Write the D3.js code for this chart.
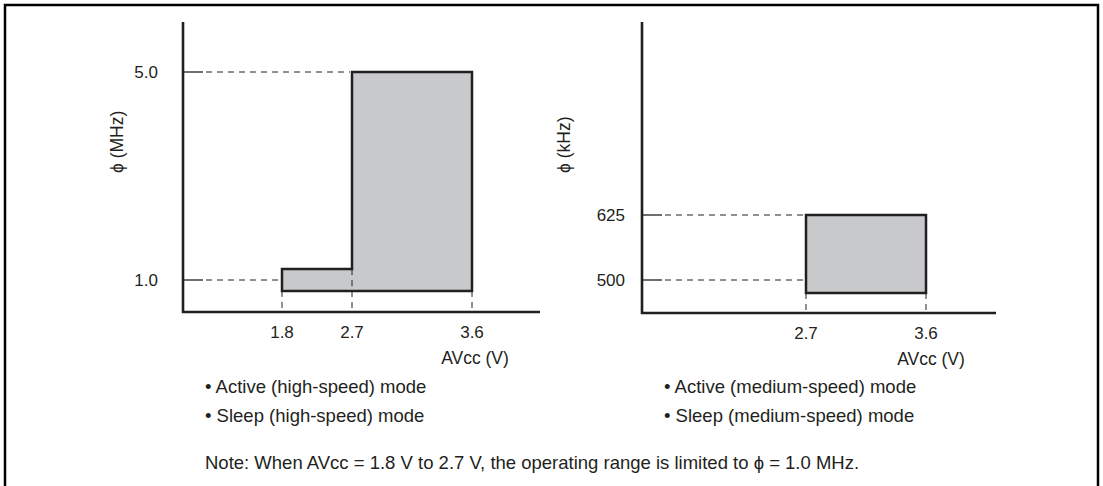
<!DOCTYPE html>
<html><head><meta charset="utf-8">
<script src="https://cdn.jsdelivr.net/npm/d3@7"></script>
<style>body{margin:0;background:#fff}svg text{font-family:"Liberation Sans",Arial,sans-serif;fill:#231f20}</style>
</head><body><svg id="c" width="1103" height="486"></svg>
<script>
// Left chart (high-speed): AVcc (V) vs phi (MHz)
const leftXTicks = [1.8, 2.7, 3.6];
const leftXLabels = ["1.8", "2.7", "3.6"];
const leftYTicks = [1.0, 5.0];
const leftYLabels = ["1.0", "5.0"];
const leftShapeV = [1.8, 1.8, 2.7, 2.7, 3.6, 3.6];
const leftShapeF = [0.79, 1.21, 1.21, 5.0, 5.0, 0.79];
// Right chart (medium-speed): AVcc (V) vs phi (kHz)
const rightXTicks = [2.7, 3.6];
const rightXLabels = ["2.7", "3.6"];
const rightYTicks = [500, 625];
const rightYLabels = ["500", "625"];
const rightShapeV = [2.7, 2.7, 3.6, 3.6];
const rightShapeF = [475, 625, 625, 475];
const leftModes = ["• Active (high-speed) mode", "• Sleep (high-speed) mode"];
const rightModes = ["• Active (medium-speed) mode", "• Sleep (medium-speed) mode"];
const note = "Note: When AVcc = 1.8 V to 2.7 V, the operating range is limited to \u03d5 = 1.0 MHz.";

const svg = d3.select("#c");
const ink = "#231f20", fillC = "#c8c9cb";

svg.append("rect").attr("x",5).attr("y",5).attr("width",1093).attr("height",490)
  .attr("fill","none").attr("stroke","#000").attr("stroke-width",2.5);

function panel(o){
  const g = svg.append("g");
  const x = d3.scaleLinear().domain(o.xd).range(o.xr);
  const y = d3.scaleLinear().domain(o.yd).range(o.yr);
  g.append("line").attr("x1",o.ax).attr("x2",o.ax).attr("y1",o.top).attr("y2",o.base+1)
    .attr("stroke",ink).attr("stroke-width",2.6);
  g.append("line").attr("x1",o.ax-1).attr("x2",o.right).attr("y1",o.base).attr("y2",o.base)
    .attr("stroke",ink).attr("stroke-width",2.6);
  const pts = o.sv.map((v,i)=>[x(v), y(o.sf[i])]);
  g.append("path").attr("d", d3.line()(pts)+"Z").attr("fill",fillC)
    .attr("stroke",ink).attr("stroke-width",2.5).attr("stroke-linejoin","miter");
  o.yt.forEach((t,i)=>{
    const yy = y(t);
    g.append("line").attr("x1",o.ax).attr("x2",o.ax+20).attr("y1",yy).attr("y2",yy)
      .attr("stroke",ink).attr("stroke-width",1.3);
    g.append("line").attr("x1",o.ax+23).attr("x2",o.guideEnd[i]).attr("y1",yy).attr("y2",yy)
      .attr("stroke",ink).attr("stroke-width",1).attr("stroke-dasharray","6,5");
    g.append("text").attr("x",o.ax-o.lblGap).attr("y",yy+6).attr("text-anchor","end")
      .attr("font-size",17).text(o.yl[i]);
  });
  o.xt.forEach((t,i)=>{
    const xx = x(t);
    g.append("line").attr("x1",xx).attr("x2",xx).attr("y1",y(o.vFrom[i])).attr("y2",o.base-3)
      .attr("stroke",ink).attr("stroke-width",1).attr("stroke-dasharray","6,5");
    g.append("text").attr("x",xx).attr("y",o.base+26).attr("text-anchor","middle")
      .attr("font-size",17).text(o.xl[i]);
  });
  g.append("text").attr("x",o.avx).attr("y",o.base+52).attr("text-anchor","middle")
    .attr("font-size",17.5).text("AVcc (V)");
  g.append("text").attr("transform",`translate(${o.ax-o.titleOff},173) rotate(-90)`)
    .attr("text-anchor","start").attr("font-size",17.5).text(o.ytitle);
  o.modes.forEach((m,i)=>{
    g.append("text").attr("x",o.ax+22).attr("y",392.5+i*29).attr("font-size",18.5).text(m);
  });
}

panel({xd:[1.8,2.7,3.6], xr:[282,352,472], yd:[1,5], yr:[280,72],
  ax:183, top:22, base:312, right:540,
  sv:leftShapeV, sf:leftShapeF, yt:leftYTicks, yl:leftYLabels,
  xt:leftXTicks, xl:leftXLabels, vFrom:[0.79,1.21,0.79],
  guideEnd:[280,350], lblGap:25, avx:475, titleOff:60, ytitle:"\u03d5 (MHz)", modes:leftModes});

panel({xd:[2.7,3.6], xr:[806,926], yd:[500,625], yr:[280,215],
  ax:642, top:22, base:313, right:996,
  sv:rightShapeV, sf:rightShapeF, yt:rightYTicks, yl:rightYLabels,
  xt:rightXTicks, xl:rightXLabels, vFrom:[475,475],
  guideEnd:[804,804], lblGap:17, avx:931, titleOff:72, ytitle:"\u03d5 (kHz)", modes:rightModes});

svg.append("text").attr("x",205).attr("y",468.5).attr("font-size",18.5).text(note);
</script></body></html>
